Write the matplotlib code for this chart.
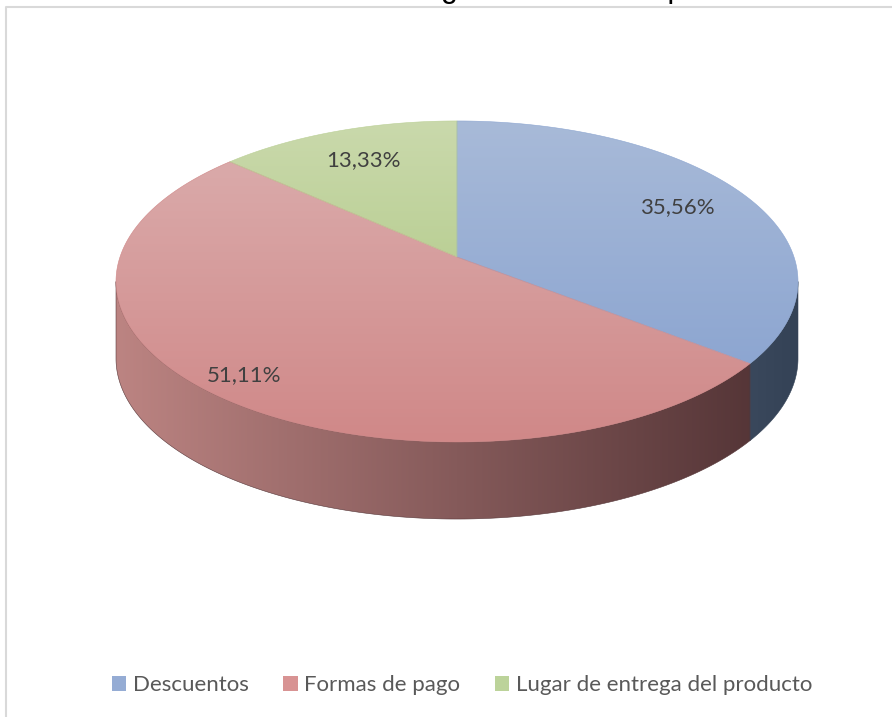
import numpy as np
import matplotlib.pyplot as plt
from matplotlib.patches import Polygon, Patch

# Datos del gráfico
categorias = ['Descuentos', 'Formas de pago', 'Lugar de entrega del producto']
porcentajes = [35.56, 51.11, 13.33]

# Colores de cada porción: cara superior (arriba, abajo) y lateral (izquierda, derecha)
col_sup = [((168, 186, 216), (141, 166, 209)),
           ((218, 170, 170), (208, 136, 136)),
           ((202, 217, 172), (187, 208, 150))]
col_lat = [((58, 72, 92), (52, 66, 86)),
           ((188, 132, 130), (78, 48, 50)),
           ((150, 170, 110), (110, 130, 80))]
col_leyenda = ['#95acd4', '#d89393', '#bcd39a']
radio_etiqueta = [0.765, 0.88, 0.75]

# Proyección en perspectiva del disco
cx, cy = 457, 257
a, b, c = 337, 156.8, 0.1526
prof = 77


def proyectar(phi, r=1.0, dy=0.0):
    u = r * np.sin(phi)
    v = r * np.cos(phi)
    w = 1 + c * v
    return cx + a * u / w, cy - b * v / w + dy


def rgb(t):
    return np.array(t) / 255.0


fig = plt.figure(figsize=(8.92, 7.17), dpi=100)
ax = fig.add_axes([0, 0, 1, 1])
ax.set_xlim(0, 892)
ax.set_ylim(717, 0)
ax.axis('off')

# Marco del gráfico
ax.plot([6, 6, 892], [717, 7, 7], color='#d9d9d9', lw=1.5)

# Título (queda cortado en el borde superior)
fig.text(8 / 892, 1 + 2.5 / 717, 'Ilustración 4. Condiciones de negociación con el proveedor actual',
         fontsize=22, family='Liberation Sans', ha='left', va='baseline', color='black')

limites = np.concatenate([[0], np.cumsum(porcentajes)]) / 100 * 2 * np.pi
front0 = np.arccos(-c)
front1 = 2 * np.pi - front0


def degradado(poly_xy, c0, c1, horizontal=False, z=1):
    xs, ys = poly_xy[:, 0], poly_xy[:, 1]
    x0, x1, y0, y1 = xs.min(), xs.max(), ys.min(), ys.max()
    t = np.linspace(0, 1, 256)[:, None]
    grad = rgb(c0) * (1 - t) + rgb(c1) * t
    if horizontal:
        img = grad[None, :, :]
    else:
        img = grad[:, None, :]
    patch = Polygon(poly_xy, closed=True, facecolor='none', edgecolor='none')
    ax.add_patch(patch)
    im = ax.imshow(img, extent=(x0, x1, y1, y0), origin='upper', aspect='auto',
                   interpolation='bilinear', zorder=z)
    im.set_clip_path(patch)
    ax.add_patch(Polygon(poly_xy, closed=True, facecolor='none',
                         edgecolor=rgb(c1), lw=0.4, zorder=z + 0.1))


# Paredes laterales visibles
xa, _ = proyectar(front0)
xz, _ = proyectar(front1)
for i in range(len(porcentajes)):
    p0 = max(limites[i], front0)
    p1 = min(limites[i + 1], front1)
    if p1 <= p0:
        continue
    phi = np.linspace(p0, p1, 200)
    xt, yt = proyectar(phi)
    xb, yb = proyectar(phi[::-1], dy=prof)
    poly = np.column_stack([np.concatenate([xt, xb]), np.concatenate([yt, yb])])
    # el degradado se reparte a lo ancho de todo el cilindro
    t0 = (poly[:, 0].min() - xz) / (xa - xz)
    t1 = (poly[:, 0].max() - xz) / (xa - xz)
    ca = rgb(col_lat[i][0]) * (1 - t0) + rgb(col_lat[i][1]) * t0
    cb = rgb(col_lat[i][0]) * (1 - t1) + rgb(col_lat[i][1]) * t1
    if i == 0:
        ca, cb = rgb(col_lat[i][0]), rgb(col_lat[i][1])
    degradado(poly, tuple(ca * 255), tuple(cb * 255), horizontal=True, z=1)

# Caras superiores
for i in range(len(porcentajes)):
    phi = np.linspace(limites[i], limites[i + 1], 300)
    xs, ys = proyectar(phi)
    poly = np.column_stack([np.concatenate([[cx], xs]), np.concatenate([[cy], ys])])
    degradado(poly, col_sup[i][0], col_sup[i][1], z=2)

# Etiquetas de porcentaje
for i, pct in enumerate(porcentajes):
    mid = (limites[i] + limites[i + 1]) / 2
    x, y = proyectar(mid, r=radio_etiqueta[i])
    ax.text(x, y, f'{pct:.2f}%'.replace('.', ','), ha='center', va='center',
            fontsize=16, family='Lato', color='#404040', zorder=5)

# Leyenda
handles = [Patch(facecolor=col_leyenda[i], edgecolor='none') for i in range(3)]
fig.legend(handles, categorias, loc='center', bbox_to_anchor=(462 / 892, 1 - 685 / 717),
           ncol=3, frameon=False, prop={'family': 'Lato', 'size': 16},
           handlelength=0.65, handleheight=0.65, handletextpad=0.3, columnspacing=1.55,
           labelcolor='#595959')

fig.savefig('out.png', dpi=100)
